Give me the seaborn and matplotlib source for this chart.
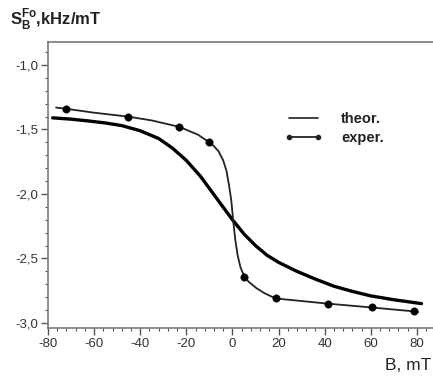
import numpy as np
import pandas as pd
import matplotlib
matplotlib.use('Agg')
import matplotlib.pyplot as plt
import seaborn as sns
from matplotlib.lines import Line2D
from matplotlib.ticker import MultipleLocator, FuncFormatter

# theoretical curve
b_theor = [-78, -70, -62, -55, -48, -40, -32, -26, -20, -14, -7, 0, 5, 10, 15, 20,
           28, 36, 44, 52, 60, 70, 82]
s_theor = [-1.41, -1.42, -1.435, -1.45, -1.47, -1.51, -1.57, -1.645, -1.74, -1.86,
           -2.03, -2.20, -2.31, -2.40, -2.475, -2.53, -2.60, -2.66, -2.715, -2.755,
           -2.79, -2.82, -2.85]

# experimental points
b_exp = [-72, -45.5, -23, -10, 5.2, 18.7, 41.3, 60.4, 78.7]
s_exp = [-1.34, -1.40, -1.48, -1.60, -2.64, -2.81, -2.85, -2.88, -2.91]

# smooth line drawn through the experimental points
b_fit = [-76.5, -72, -60, -45.5, -35, -23, -15, -10, -8, -6, -4, -2.6, -1.5, -0.5,
         0.3, 1.2, 2.2, 3.5, 5.2, 7, 10.4, 14, 18.7, 30, 41.3, 60.4, 78.7, 80.5]
s_fit = [-1.33, -1.34, -1.37, -1.40, -1.43, -1.48, -1.54, -1.60, -1.63, -1.67, -1.74,
         -1.82, -1.93, -2.05, -2.20, -2.35, -2.47, -2.57, -2.64, -2.68, -2.73, -2.77,
         -2.81, -2.83, -2.85, -2.88, -2.91, -2.915]

sns.set_style('white')
plt.rcParams['font.family'] = ['Liberation Sans', 'DejaVu Sans']
plt.rcParams['mathtext.fontset'] = 'custom'
plt.rcParams['mathtext.bf'] = 'Liberation Sans:bold'
plt.rcParams['mathtext.rm'] = 'Liberation Sans'

fig = plt.figure(figsize=(4.33, 3.77), dpi=100)
ax = fig.add_axes([48 / 433, 1 - 328 / 377, 1 - 48 / 433, (328 - 42) / 377])

sns.lineplot(x=b_theor, y=s_theor, ax=ax, color='black', linewidth=2.4, sort=False)
sns.lineplot(x=b_fit, y=s_fit, ax=ax, color='#222222', linewidth=1.3, sort=False)
sns.scatterplot(x=b_exp, y=s_exp, ax=ax, color='black', s=28, edgecolor='black', zorder=5)

ax.set_xlim(-80, 87)
ax.set_ylim(-3.039, -0.822)

ax.xaxis.set_major_locator(MultipleLocator(20))
ax.xaxis.set_minor_locator(MultipleLocator(4))
ax.yaxis.set_major_locator(MultipleLocator(0.5))
ax.yaxis.set_minor_locator(MultipleLocator(0.1))
ax.xaxis.set_major_formatter(FuncFormatter(lambda v, p: '%d' % v))
ax.yaxis.set_major_formatter(FuncFormatter(lambda v, p: ('%.1f' % v).replace('.', ',')))

for side in ['top', 'left', 'bottom']:
    ax.spines[side].set_visible(True)
    ax.spines[side].set_color('#7a7a7a')
    ax.spines[side].set_linewidth(1.2)
ax.spines['right'].set_visible(False)

ax.tick_params(which='major', direction='out', length=5, width=1, color='#555555',
               labelsize=9.5, labelcolor='#333333', bottom=True, left=True, pad=2)
ax.tick_params(which='minor', direction='out', length=2.5, width=0.8, color='#555555',
               bottom=True, left=True)

fig.text(10 / 433, 1 - 24 / 377, r'$\mathbf{S}_{\mathbf{B}}^{\mathbf{Fo}}$,kHz/mT',
         fontsize=12, fontweight='bold', color='#222222', va='baseline')
fig.text(1 - 2 / 433, 1 - 370 / 377, 'B, mT', fontsize=12.5, ha='right',
         va='baseline', color='#222222')

handles = [Line2D([], [], color='#333333', linewidth=1.3),
           Line2D([], [], color='#222222', linewidth=1.3, marker='o', markersize=3)]
leg = ax.legend(handles, ['theor.', 'exper.'], loc='upper left',
                bbox_to_anchor=(0.58, 0.80), frameon=False, handlelength=2.6,
                handletextpad=1.3, labelspacing=0.3, numpoints=2,
                prop={'weight': 'bold', 'size': 10.5})
for t in leg.get_texts():
    t.set_color('#222222')

fig.savefig('out.png', dpi=100)
